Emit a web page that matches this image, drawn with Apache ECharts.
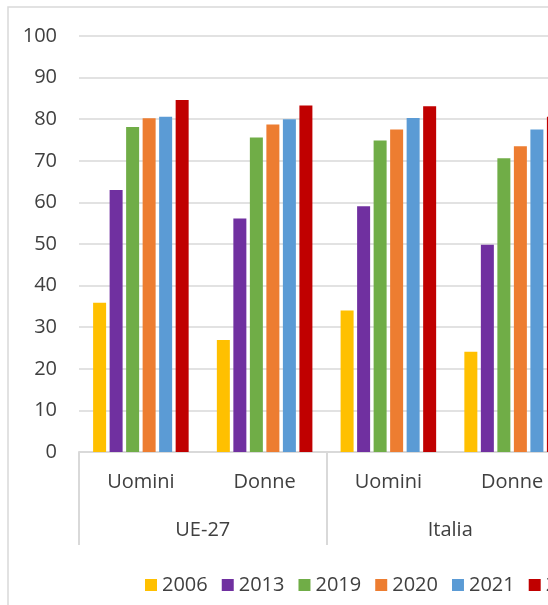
<!DOCTYPE html>
<html>
<head>
<meta charset="utf-8">
<script src="https://cdn.jsdelivr.net/npm/echarts@6/dist/echarts.min.js"></script>
<style>
html, body { margin: 0; padding: 0; background: #fff; overflow: hidden; }
/* il grafico originale è tagliato a destra: il contenitore è più largo della finestra */
#main { width: 640px; height: 605px; }
</style>
</head>
<body>
<div id="main"></div>
<script>
// categorie (livello interno ed esterno)
var sessi = ['Uomini', 'Donne', 'Uomini', 'Donne'];
var aree = ['UE-27', 'Italia'];
var anni = ['2006', '2013', '2019', '2020', '2021', '2022'];
var colori = ['#FFC000', '#7030A0', '#70AD47', '#ED7D31', '#5B9BD5', '#C00000'];

// valori per anno: UE-27 Uomini, UE-27 Donne, Italia Uomini, Italia Donne
var v2006 = [35.9, 26.9, 34.0, 24.1];
var v2013 = [63.0, 56.1, 59.1, 49.8];
var v2019 = [78.1, 75.6, 74.9, 70.6];
var v2020 = [80.2, 78.7, 77.5, 73.5];
var v2021 = [80.6, 80.0, 80.3, 77.5];
var v2022 = [84.6, 83.3, 83.1, 80.6];
var valori = [v2006, v2013, v2019, v2020, v2021, v2022];

var font = '"Open Sans", sans-serif';
var grigio = '#d9d9d9';
var testo = '#404040';

var myChart = echarts.init(document.getElementById('main'));

var series = [];
for (var i = 0; i < anni.length; i++) {
    series.push({
        name: anni[i],
        type: 'bar',
        xAxisIndex: 0,
        barWidth: 13,
        barGap: '27%',
        itemStyle: { color: colori[i] },
        data: valori[i]
    });
}

var option = {
    backgroundColor: '#fff',
    animation: false,
    color: colori,
    graphic: [{
        type: 'rect',
        silent: true,
        shape: { x: 8, y: 7, width: 700, height: 700 },
        style: { fill: 'none', stroke: grigio, lineWidth: 1.5 }
    }],
    grid: { left: 79, top: 36, width: 495, height: 416 },
    legend: {
        left: 140,
        top: 570,
        itemWidth: 12,
        itemHeight: 12,
        itemGap: 14,
        icon: 'rect',
        textStyle: { fontFamily: font, fontSize: 20, color: testo },
        data: anni
    },
    xAxis: [{
        type: 'category',
        data: sessi,
        position: 'bottom',
        axisLine: { lineStyle: { color: grigio, width: 2 } },
        axisTick: { show: false },
        axisLabel: { margin: 20, fontFamily: font, fontSize: 20, color: testo, interval: 0 }
    }, {
        type: 'category',
        data: aree,
        position: 'bottom',
        axisLine: { show: false },
        axisTick: { show: true, length: 93, interval: 0, lineStyle: { color: grigio, width: 2 } },
        axisLabel: { margin: 68, fontFamily: font, fontSize: 20, color: testo, interval: 0 }
    }],
    yAxis: {
        type: 'value',
        min: 0,
        max: 100,
        interval: 10,
        axisLine: { show: false },
        axisTick: { show: false },
        axisLabel: { margin: 22, fontFamily: font, fontSize: 20, color: testo },
        splitLine: { lineStyle: { color: grigio, width: 1.5 } }
    },
    series: series
};

myChart.setOption(option);
</script>
</body>
</html>
